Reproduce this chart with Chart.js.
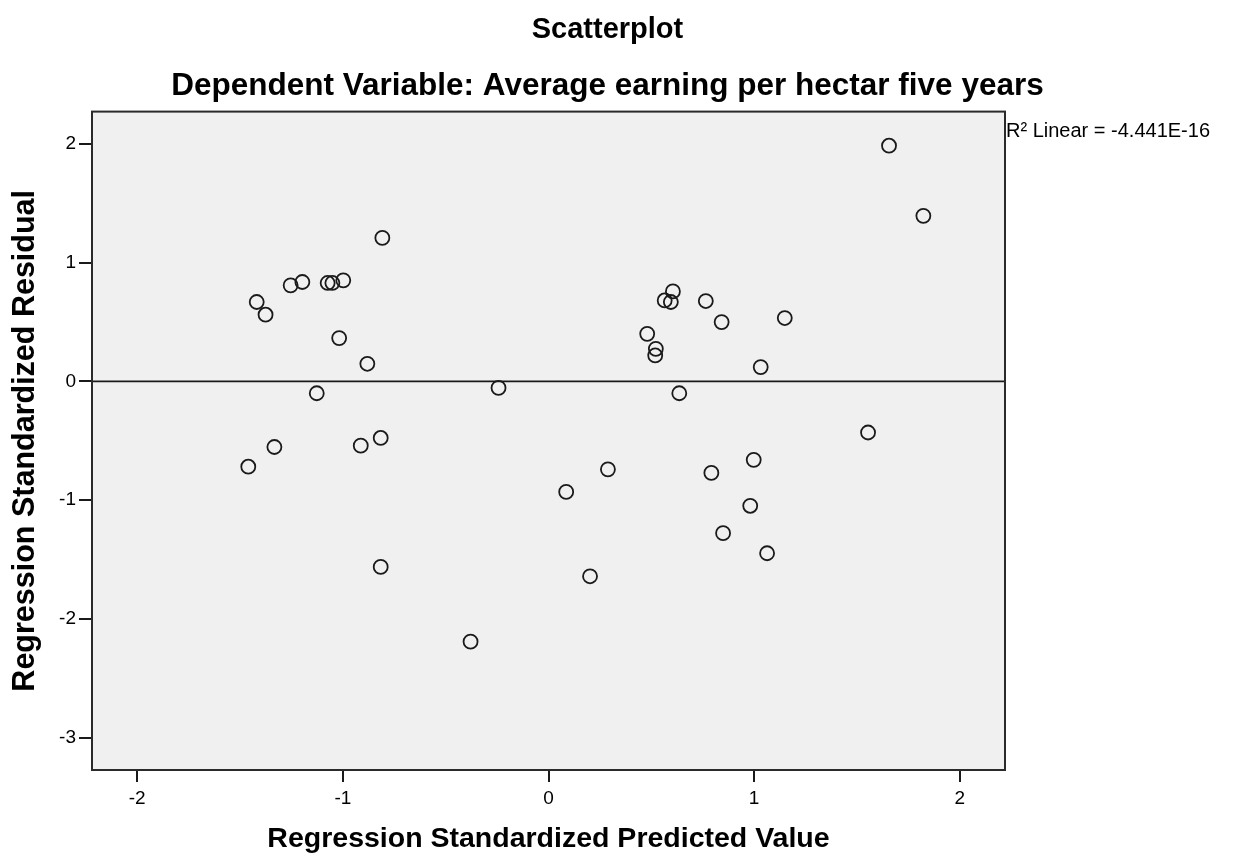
<!DOCTYPE html>
<html>
<head>
<meta charset="utf-8">
<script src="https://cdn.jsdelivr.net/npm/chart.js@4.4.1/dist/chart.umd.min.js"></script>
<style>
  html, body { margin: 0; padding: 0; background: #fff; }
  #wrap { width: 1239px; height: 868px; }
</style>
</head>
<body>
<div id="wrap"><canvas id="myChart" width="1239" height="868"></canvas></div>
<script>
// values
const predicted = [
  -1.419, -1.376, -1.254, -1.197, -1.074, -1.051, -0.998, -0.808, -1.018,
  -0.881, -1.127, -1.460, -1.333, -0.913, -0.816, -0.816, -0.379, -0.243,
  1.656, 1.823, 0.605, 0.565, 0.595, 0.765, 1.149, 0.842, 0.480, 0.522,
  0.519, 1.032, 0.636, 1.554, 0.998, 0.289, 0.792, 0.086, 0.981, 0.849,
  1.063, 0.202
];
const residual = [
  0.668, 0.561, 0.808, 0.836, 0.828, 0.828, 0.850, 1.207, 0.364,
  0.148, -0.100, -0.718, -0.552, -0.541, -0.476, -1.561, -2.190, -0.055,
  1.983, 1.393, 0.757, 0.681, 0.668, 0.676, 0.533, 0.499, 0.400, 0.274,
  0.218, 0.120, -0.100, -0.430, -0.660, -0.740, -0.770, -0.930, -1.047, -1.277,
  -1.446, -1.640
];
const xTicks = [-2, -1, 0, 1, 2];
const yTicks = [-3, -2, -1, 0, 1, 2];
const xRange = [-2.22, 2.22];
const yRange = [-3.27, 2.27];

// fit line (R2 linear is ~0, so slope and intercept are 0)
const fitSlope = 0;
const fitIntercept = 0;
const fitLabel = "R\u00B2 Linear = -4.441E-16";

const chartTitle = "Scatterplot";
const chartSubtitle = "Dependent Variable: Average earning per hectar five years";
const xTitle = "Regression Standardized Predicted Value";
const yTitle = "Regression Standardized Residual";

const FONT = "'Liberation Sans', Arial, sans-serif";

const points = predicted.map((x, i) => ({ x: x, y: residual[i] }));
const fitLine = xRange.map(x => ({ x: x, y: fitIntercept + fitSlope * x }));

const plotFrame = {
  id: "plotFrame",
  beforeDraw(chart) {
    const { ctx, chartArea: a } = chart;
    ctx.save();
    ctx.fillStyle = "#f0f0f0";
    ctx.fillRect(a.left, a.top, a.right - a.left, a.bottom - a.top);
    ctx.restore();
  },
  afterDraw(chart) {
    const { ctx, chartArea: a } = chart;
    ctx.save();
    ctx.strokeStyle = "#2a2a2a";
    ctx.lineWidth = 2;
    ctx.strokeRect(a.left, a.top, a.right - a.left, a.bottom - a.top);
    ctx.fillStyle = "#000";
    ctx.font = "20px " + FONT;
    ctx.textAlign = "left";
    ctx.textBaseline = "middle";
    ctx.fillText(fitLabel, a.right + 1, a.top + 20);
    ctx.restore();
  }
};

const ctx = document.getElementById("myChart");
new Chart(ctx, {
  type: "scatter",
  data: {
    datasets: [
      {
        label: "residuals",
        data: points,
        pointStyle: "circle",
        pointRadius: 7,
        pointHoverRadius: 7,
        pointBorderWidth: 1.8,
        borderColor: "#1a1a1a",
        backgroundColor: "rgba(0,0,0,0)"
      },
      {
        type: "line",
        label: "fit",
        data: fitLine,
        borderColor: "#1a1a1a",
        borderWidth: 1.6,
        pointRadius: 0,
        fill: false
      }
    ]
  },
  options: {
    responsive: false,
    animation: false,
    layout: { padding: { top: 0, left: 0, right: 24, bottom: 0 } },
    plugins: {
      legend: { display: false },
      tooltip: { enabled: false },
      title: {
        display: true,
        text: chartTitle,
        color: "#000",
        font: { family: FONT, size: 29, weight: "bold" },
        padding: { top: 13, bottom: 20 }
      },
      subtitle: {
        display: true,
        text: chartSubtitle,
        color: "#000",
        font: { family: FONT, size: 31.5, weight: "bold" },
        padding: { top: 0, bottom: 6 }
      }
    },
    scales: {
      x: {
        type: "linear",
        min: xRange[0],
        max: xRange[1],
        afterFit(scale) { scale.height = 98; },
        afterBuildTicks(scale) { scale.ticks = xTicks.map(v => ({ value: v })); },
        grid: { drawOnChartArea: false, drawTicks: true, tickLength: 12, color: "#1a1a1a", lineWidth: 2 },
        border: { display: false },
        ticks: { color: "#000", padding: 5, font: { family: FONT, size: 19 } },
        title: {
          display: true,
          text: xTitle,
          color: "#000",
          font: { family: FONT, size: 28.5, weight: "bold" },
          padding: { top: 0, bottom: 12 }
        }
      },
      y: {
        type: "linear",
        min: yRange[0],
        max: yRange[1],
        afterFit(scale) { scale.width = 92; },
        afterBuildTicks(scale) { scale.ticks = yTicks.map(v => ({ value: v })); },
        grid: { drawOnChartArea: false, drawTicks: true, tickLength: 13, color: "#1a1a1a", lineWidth: 2 },
        border: { display: false },
        ticks: { color: "#000", padding: 3, font: { family: FONT, size: 19 } },
        title: {
          display: true,
          text: yTitle,
          color: "#000",
          font: { family: FONT, size: 30.5, weight: "bold" },
          padding: { top: 7, bottom: 0 }
        }
      },
      // empty right-hand box that keeps room for the fit label
      yRight: {
        type: "linear",
        position: "right",
        display: true,
        afterFit(scale) { scale.width = 210; },
        grid: { display: false },
        border: { display: false },
        ticks: { display: false }
      }
    }
  },
  plugins: [plotFrame]
});
</script>
</body>
</html>
